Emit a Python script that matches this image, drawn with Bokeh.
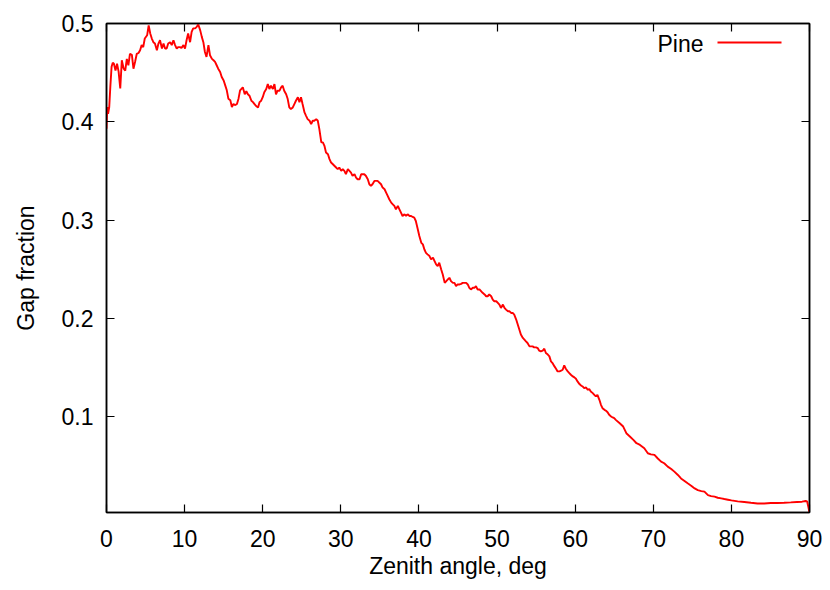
from bokeh.plotting import figure
from bokeh.models import Range1d, FixedTicker, LinearAxis, Label, Arrow
from bokeh.embed import file_html
from bokeh.resources import INLINE

# ---- data ----
angle = [
    0.0, 0.1, 0.2, 0.35, 0.5, 0.65, 0.8, 0.95, 1.15, 1.35, 1.55, 1.76, 1.96, 2.2, 2.4, 2.6, 2.8,
    3.0, 3.25, 3.45, 3.66, 3.87, 4.1, 4.3, 4.5, 4.7, 4.9, 5.2, 5.4, 5.6, 5.8, 6.0, 6.2, 6.45,
    6.65, 6.85, 7.1, 7.3, 7.5, 7.7, 7.9, 8.15, 8.35, 8.57, 8.78, 8.99, 9.2, 9.4, 9.6, 9.85,
    10.05, 10.25, 10.45, 10.7, 10.9, 11.1, 11.35, 11.55, 11.75, 12.0, 12.2, 12.4, 12.6, 12.8,
    13.05, 13.25, 13.5, 13.7, 13.9, 14.1, 14.3, 14.55, 14.75, 15.0, 15.2, 15.4, 15.6, 15.85,
    16.05, 16.25, 16.5, 16.7, 16.9, 17.1, 17.45, 17.7, 17.9, 18.1, 18.3, 18.55, 18.75, 18.95,
    19.15, 19.4, 19.6, 19.8, 20.0, 20.2, 20.45, 20.65, 20.85, 21.05, 21.3, 21.5, 21.7, 21.9,
    22.15, 22.35, 22.55, 22.75, 23.0, 23.2, 23.4, 23.6, 23.85, 24.05, 24.25, 24.5, 24.7, 24.9,
    25.1, 25.35, 25.55, 25.75, 26.0, 26.2, 26.4, 26.6, 26.85, 27.05, 27.25, 27.5, 27.7, 27.9,
    28.1, 28.35, 28.55, 28.75, 28.95, 29.2, 29.4, 29.6, 29.8, 30.05, 30.25, 30.45, 30.65, 30.9,
    31.1, 31.3, 31.5, 31.75, 31.95, 32.15, 32.4, 32.6, 32.8, 33.0, 33.2, 33.45, 33.65, 33.85,
    34.05, 34.3, 34.5, 34.7, 35.15, 35.35, 35.6, 35.8, 36.0, 36.2, 36.45, 36.65, 36.85, 37.05,
    37.3, 37.5, 37.7, 37.9, 38.15, 38.35, 38.55, 38.8, 39.0, 39.2, 39.4, 39.6, 39.85, 40.05,
    40.3, 40.5, 40.7, 40.9, 41.1, 41.35, 41.55, 41.8, 42.0, 42.2, 42.4, 42.6, 42.85, 43.05,
    43.3, 43.5, 43.7, 43.9, 44.1, 44.35, 44.55, 44.75, 44.95, 45.2, 45.4, 45.6, 45.8, 46.05,
    46.25, 46.45, 46.65, 46.9, 47.1, 47.3, 47.5, 47.75, 47.95, 48.15, 48.4, 48.6, 48.8, 49.0,
    49.25, 49.45, 49.65, 49.9, 50.1, 50.3, 50.5, 50.75, 50.95, 51.15, 51.4, 51.6, 51.8, 52.0,
    52.2, 52.45, 52.65, 52.85, 53.05, 53.3, 53.5, 53.7, 53.9, 54.15, 54.35, 54.55, 54.75, 55.0,
    55.2, 55.4, 55.6, 55.85, 56.05, 56.25, 56.5, 56.7, 56.9, 57.1, 57.35, 57.55, 57.75, 58.0,
    58.2, 58.4, 58.6, 58.8, 59.05, 59.25, 59.45, 59.7, 59.9, 60.1, 60.3, 60.55, 60.75, 60.95,
    61.15, 61.4, 61.6, 61.8, 62.0, 62.25, 62.45, 62.65, 62.85, 63.1, 63.3, 63.5, 63.75, 63.95,
    64.15, 64.35, 64.6, 64.8, 65.0, 65.2, 65.7, 66.15, 66.55, 67.0, 67.45, 67.85, 68.3, 68.85,
    69.3, 69.7, 70.15, 70.55, 71.0, 71.4, 71.85, 72.3, 72.7, 73.15, 73.55, 74.0, 74.4, 74.85,
    75.3, 75.7, 76.15, 76.55, 77.0, 77.4, 77.85, 78.25, 78.7, 79.1, 79.55, 80.0, 80.8, 81.65,
    82.5, 83.35, 84.2, 85.05, 85.9, 86.75, 87.6, 88.4, 89.05, 89.5, 89.7, 89.85, 90.0,
]
gap_fraction = [
    0.393, 0.415, 0.408, 0.415, 0.437, 0.456, 0.460, 0.459, 0.452, 0.459, 0.451, 0.434, 0.4626,
    0.454, 0.452, 0.464, 0.4575, 0.469, 0.468, 0.454, 0.461, 0.469, 0.470, 0.4728, 0.478, 0.476,
    0.4847, 0.488, 0.498, 0.4898, 0.4847, 0.481, 0.4796, 0.4728, 0.4796, 0.483, 0.4745, 0.4796,
    0.4745, 0.4745, 0.4796, 0.481, 0.478, 0.483, 0.478, 0.4745, 0.476, 0.476, 0.475, 0.478,
    0.4745, 0.483, 0.4898, 0.481, 0.4915, 0.495, 0.495, 0.4966, 0.499, 0.493, 0.4864, 0.481,
    0.471, 0.466, 0.478, 0.4677, 0.464, 0.4626, 0.461, 0.4575, 0.454, 0.4507, 0.4456, 0.442,
    0.437, 0.432, 0.4235, 0.422, 0.415, 0.418, 0.417, 0.418, 0.4235, 0.432, 0.435, 0.428,
    0.431, 0.428, 0.4265, 0.4214, 0.420, 0.418, 0.416, 0.4146, 0.420, 0.4214, 0.425, 0.430,
    0.4333, 0.4384, 0.4333, 0.4367, 0.4333, 0.4384, 0.428, 0.4316, 0.4316, 0.435, 0.4367,
    0.4316, 0.428, 0.4231, 0.4146, 0.413, 0.4146, 0.418, 0.4214, 0.425, 0.420, 0.425, 0.418,
    0.4095, 0.406, 0.4027, 0.401, 0.3976, 0.401, 0.401, 0.4027, 0.401, 0.3925, 0.379, 0.379,
    0.3755, 0.3687, 0.367, 0.362, 0.3585, 0.357, 0.355, 0.3534, 0.3517, 0.3534, 0.350, 0.3517,
    0.350, 0.3466, 0.3517, 0.350, 0.3483, 0.345, 0.3466, 0.3432, 0.3415, 0.3415, 0.3466,
    0.3466, 0.3466, 0.345, 0.3415, 0.3364, 0.3347, 0.3364, 0.3398, 0.3398, 0.3398, 0.3364,
    0.333, 0.3313, 0.3279, 0.3245, 0.3211, 0.3177, 0.316, 0.3143, 0.3109, 0.3143, 0.3109,
    0.3075, 0.3041, 0.3058, 0.3041, 0.3058, 0.3041, 0.3041, 0.3031, 0.3024, 0.299, 0.2905,
    0.2837, 0.2768, 0.2752, 0.270, 0.2666, 0.265, 0.2633, 0.260, 0.2616, 0.2582, 0.2548, 0.253,
    0.2565, 0.2497, 0.2446, 0.236, 0.2378, 0.2395, 0.2412, 0.2378, 0.236, 0.236, 0.2327,
    0.2344, 0.2344, 0.235, 0.236, 0.236, 0.236, 0.2344, 0.231, 0.2293, 0.231, 0.231, 0.2327,
    0.2293, 0.2293, 0.2276, 0.2259, 0.2242, 0.2224, 0.2224, 0.2242, 0.2224, 0.219, 0.2173,
    0.2173, 0.2156, 0.2139, 0.2105, 0.2139, 0.2105, 0.2088, 0.2071, 0.2071, 0.2054, 0.2054,
    0.2037, 0.1987, 0.1936, 0.1885, 0.1834, 0.180, 0.1783, 0.1765, 0.1748, 0.1714, 0.1714,
    0.1714, 0.1704, 0.1704, 0.1697, 0.167, 0.1663, 0.167, 0.169, 0.1646, 0.163, 0.1612,
    0.1561, 0.1544, 0.151, 0.1486, 0.1459, 0.1459, 0.1466, 0.1476, 0.152, 0.1486, 0.1459,
    0.1442, 0.1425, 0.1408, 0.1398, 0.1384, 0.1357, 0.133, 0.1316, 0.1306, 0.1289, 0.1295,
    0.1272, 0.128, 0.1255, 0.1238, 0.1221, 0.1204, 0.1221, 0.117, 0.1119, 0.1085, 0.1068,
    0.1058, 0.1044, 0.1017, 0.100, 0.099, 0.0983, 0.0966, 0.0932, 0.0898, 0.083, 0.0796,
    0.0762, 0.0728, 0.0711, 0.0677, 0.0626, 0.0615, 0.0609, 0.0575, 0.0541, 0.0524, 0.049,
    0.0466, 0.0439, 0.0405, 0.037, 0.0344, 0.032, 0.0296, 0.0268, 0.0251, 0.0241, 0.0235,
    0.020, 0.019, 0.0184, 0.0173, 0.0167, 0.016, 0.0153, 0.0146, 0.0136, 0.013, 0.0122,
    0.0115, 0.0115, 0.0119, 0.0119, 0.0122, 0.0126, 0.013, 0.0133, 0.014, 0.0135, 0.008, 0.0023,
]
x_ticks = [0, 10, 20, 30, 40, 50, 60, 70, 80, 90]
y_ticks = [0.1, 0.2, 0.3, 0.4, 0.5]
series_name = "Pine"
x_title = "Zenith angle, deg"
y_title = "Gap fraction"

FONT = "Liberation Sans"
FS = "23px"

p = figure(width=830, height=590, output_backend="svg", toolbar_location=None,
           x_range=Range1d(0, 90), y_range=Range1d(0.0023, 0.5),
           min_border_left=106, min_border_right=21, min_border_top=23, min_border_bottom=78,
           x_axis_label=x_title, y_axis_label=y_title)
p.background_fill_color = "white"
p.border_fill_color = "white"
p.grid.visible = False
p.outline_line_color = "black"
p.outline_line_width = 1.5

p.line(angle, gap_fraction, line_color="#ff0000", line_width=1.9)

for ax, tk in ((p.xaxis[0], x_ticks), (p.yaxis[0], y_ticks)):
    ax.ticker = FixedTicker(ticks=tk)
    ax.major_tick_in = 8
    ax.major_tick_out = 0
    ax.minor_tick_line_color = None
    ax.axis_line_width = 1.5
    ax.major_tick_line_width = 1.2
    ax.major_label_text_font = FONT
    ax.major_label_text_font_size = FS
    ax.major_label_text_color = "black"
    ax.axis_label_text_font = FONT
    ax.axis_label_text_font_size = FS
    ax.axis_label_text_font_style = "normal"
    ax.axis_label_text_color = "black"

p.xaxis[0].major_label_standoff = 17
p.xaxis[0].axis_label_standoff = 3
p.yaxis[0].major_label_standoff = 13
p.yaxis[0].axis_label_standoff = 20

# mirrored ticks on top and right (labels not painted)
for loc, tk in (("above", x_ticks), ("right", y_ticks)):
    ax = LinearAxis(ticker=FixedTicker(ticks=tk), major_tick_in=8, major_tick_out=0,
                    minor_tick_line_color=None, major_label_text_font_size="8px",
                    major_label_text_color=None, major_label_standoff=0,
                    axis_line_width=1.5, major_tick_line_width=1.2)
    p.add_layout(ax, loc)

# key (gnuplot style: text then line sample), placed in screen units of the frame
p.add_layout(Label(x=597, y=469, x_units="screen", y_units="screen", text=series_name,
                   text_align="right", text_baseline="alphabetic",
                   text_font=FONT, text_font_size=FS, text_color="black"))
p.add_layout(Arrow(end=None, x_start=611, y_start=470, x_end=675, y_end=470,
                   start_units="screen", end_units="screen",
                   line_color="#ff0000", line_width=1.9))

open("out.html", "w").write(file_html(p, INLINE))
